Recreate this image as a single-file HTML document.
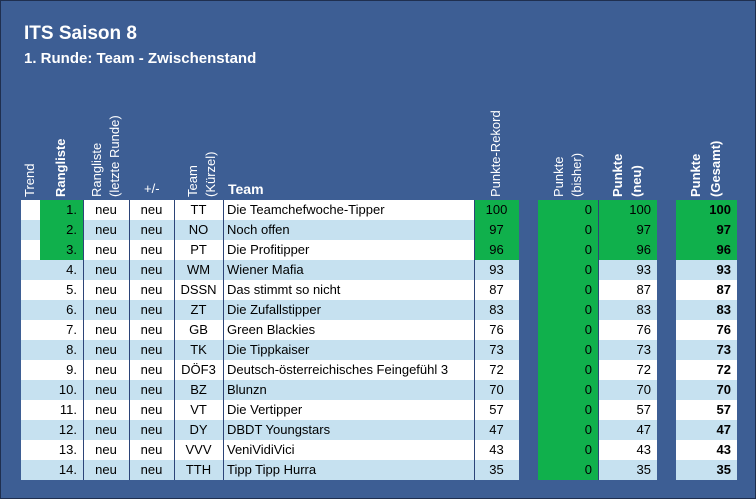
<!DOCTYPE html>
<html><head><meta charset="utf-8"><style>
body{margin:0;width:756px;height:499px;overflow:hidden;background:#3d5e94;font-family:"Liberation Sans",sans-serif}
#wrap{position:absolute;left:0;top:0;width:754px;height:497px;border:1px solid #1f2f4f;background:#3d5e94}
.t{position:absolute;color:#fff;font-weight:bold}
.h{position:absolute;color:#fff;font-size:13px;white-space:nowrap;transform-origin:0 0;transform:rotate(-90deg);line-height:14px}
.c{position:absolute;height:20px;line-height:20px;font-size:13px;color:#000;box-sizing:border-box;white-space:nowrap}
.v{position:absolute;width:1px;background:#2c4478}
</style></head><body>
<div id="wrap">
<div class="t" style="left:23px;top:22px;font-size:19px">ITS Saison 8</div>
<div class="t" style="left:23px;top:49px;font-size:15px">1. Runde: Team - Zwischenstand</div>
<div id="tbl"></div>
</div>
<script>
const ranks=["1.","2.","3.","4.","5.","6.","7.","8.","9.","10.","11.","12.","13.","14."];
const codes=["TT","NO","PT","WM","DSSN","ZT","GB","TK","DÖF3","BZ","VT","DY","VVV","TTH"];
const teams=["Die Teamchefwoche-Tipper","Noch offen","Die Profitipper","Wiener Mafia","Das stimmt so nicht","Die Zufallstipper","Green Blackies","Die Tippkaiser","Deutsch-österreichisches Feingefühl 3","Blunzn","Die Vertipper","DBDT Youngstars","VeniVidiVici","Tipp Tipp Hurra"];
const rekord=[100,97,96,93,87,83,76,73,72,70,57,47,43,35];
const bisher=[0,0,0,0,0,0,0,0,0,0,0,0,0,0];
const neu=[100,97,96,93,87,83,76,73,72,70,57,47,43,35];
const gesamt=[100,97,96,93,87,83,76,73,72,70,57,47,43,35];
const T=document.getElementById('tbl');
const G="#10b04c",W="#ffffff",B="#c6e1f0";
const y0=199,rh=20;
function cell(x,w,y,bg,txt,align,bold,name){
 const d=document.createElement('div');d.className='c';
 
 
 d.style.left=x+'px';d.style.top=y+'px';d.style.width=w+'px';d.style.background=bg;
 d.style.textAlign=align;d.style.padding=align==='right'?'0 6px 0 0':align==='left'?'0 0 0 4px':'0';
 if(bold)d.style.fontWeight='bold';d.textContent=txt;T.appendChild(d);
}
for(let i=0;i<ranks.length;i++){
 const y=y0+i*rh,alt=i%2?B:W,top=i<3;
 cell(20,19,y,alt,"","left",false,"trend-cell");
 cell(39,43,y,top?G:alt,ranks[i],"right",false,"rank-cell");
 cell(82,46,y,alt,"neu","center",false,"last-rank-cell");
 cell(128,45,y,alt,"neu","center",false,"change-cell");
 cell(173,49,y,alt,codes[i],"center",false,"team-code-cell");
 cell(222,251,y,alt,teams[i],"left",false,"team-name-cell");
 cell(473,45,y,top?G:alt,rekord[i],"center",false,"record-cell");
 cell(537,60,y,G,bisher[i],"right",false,"points-before-cell");
 cell(597,59,y,top?G:alt,neu[i],"right",false,"points-new-cell");
 cell(675,61,y,top?G:alt,gesamt[i],"right",true,"points-total-cell");
}
[82,128,173,222,473,597].forEach(x=>{const v=document.createElement('div');v.className='v';
 
 
 v.style.left=x+'px';v.style.top=y0+'px';v.style.height=(rh*ranks.length)+'px';T.appendChild(v);});
const heads=[["Trend",22,false],["Rangliste",53,true],["Rangliste",89,false],["(letzte Runde)",107,false],["Team",185,false],["(Kürzel)",203,false],["Punkte-Rekord",488,false],["Punkte",551,false],["(bisher)",569,false],["Punkte",610,true],["(neu)",629,true],["Punkte",688,true],["(Gesamt)",708,true]];
heads.forEach(h=>{const d=document.createElement('div');d.className='h';
 
 
 d.textContent=h[0];d.style.left=h[1]+'px';d.style.top='196px';if(h[2])d.style.fontWeight='bold';T.appendChild(d);});
const pm=document.createElement('div');pm.className='t';pm.style.cssText+='left:143px;top:180px;font-size:13px;font-weight:normal';pm.textContent='+/-';


T.appendChild(pm);
const tm=document.createElement('div');tm.className='t';tm.style.cssText+='left:227px;top:180px;font-size:14px';tm.textContent='Team';


T.appendChild(tm);
</script>
</body></html>
